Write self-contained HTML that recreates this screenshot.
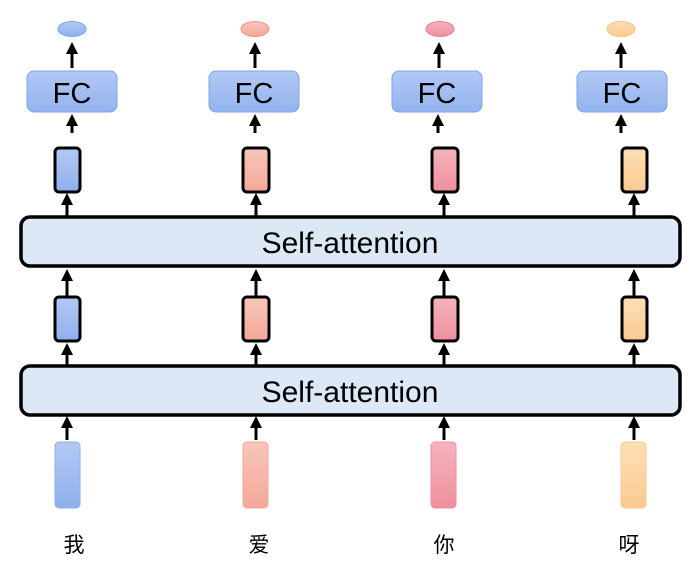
<!DOCTYPE html>
<html><head><meta charset="utf-8"><style>body{margin:0;background:#fff}svg{display:block}</style></head><body>
<svg width="694" height="573" viewBox="0 0 694 573" xmlns="http://www.w3.org/2000/svg">
<defs>
<linearGradient id="gb" x1="0" y1="0" x2="0" y2="1"><stop offset="0" stop-color="#b3c9f3"/><stop offset="1" stop-color="#8fb0ee"/></linearGradient>
<linearGradient id="gs" x1="0" y1="0" x2="0" y2="1"><stop offset="0" stop-color="#f8c6bb"/><stop offset="1" stop-color="#f3a898"/></linearGradient>
<linearGradient id="gp" x1="0" y1="0" x2="0" y2="1"><stop offset="0" stop-color="#f4b4bd"/><stop offset="1" stop-color="#ef8f9d"/></linearGradient>
<linearGradient id="go" x1="0" y1="0" x2="0" y2="1"><stop offset="0" stop-color="#fde0b6"/><stop offset="1" stop-color="#fbc990"/></linearGradient>
<linearGradient id="gfc" x1="0" y1="0" x2="0" y2="1"><stop offset="0" stop-color="#b2c9f4"/><stop offset="1" stop-color="#93b3ee"/></linearGradient>
<marker id="ah" markerWidth="4" markerHeight="4" refX="2" refY="2" orient="auto" markerUnits="strokeWidth"><path d="M0,0 L4,2 L0,4 z" fill="#000"/></marker>
</defs>
<g font-family="Liberation Sans, sans-serif">
<ellipse cx="72" cy="29" rx="14" ry="7.5" fill="url(#gb)" stroke="#7fa3ea"/>
<ellipse cx="255" cy="29" rx="14" ry="7.5" fill="url(#gs)" stroke="#ef9585"/>
<ellipse cx="440" cy="29" rx="14" ry="7.5" fill="url(#gp)" stroke="#ea7d8e"/>
<ellipse cx="621" cy="29" rx="14" ry="7.5" fill="url(#go)" stroke="#f8c27a"/>
<g fill="url(#gfc)" stroke="#7fa3ea" stroke-width="1">
<rect x="27" y="71" width="90" height="41" rx="7"/>
<rect x="209" y="71" width="90" height="41" rx="7"/>
<rect x="392" y="71" width="90" height="41" rx="7"/>
<rect x="577" y="71" width="90" height="41" rx="7"/>
</g>
<g font-size="29" text-anchor="middle" fill="#000">
<text x="72" y="103">FC</text><text x="254" y="103">FC</text><text x="437" y="103">FC</text><text x="622" y="103">FC</text>
</g>
<g stroke="#000" stroke-width="3" marker-end="url(#ah)">
<line x1="72" y1="68" x2="72" y2="48"/><line x1="255" y1="68" x2="255" y2="48"/><line x1="439" y1="68" x2="439" y2="48"/><line x1="621" y1="68" x2="621" y2="48"/>
<line x1="72" y1="133" x2="72" y2="120"/><line x1="255" y1="133" x2="255" y2="120"/><line x1="438" y1="133" x2="438" y2="120"/><line x1="621" y1="133" x2="621" y2="120"/>
<line x1="67" y1="216" x2="67" y2="199"/><line x1="256" y1="216" x2="256" y2="199"/><line x1="444" y1="216" x2="444" y2="199"/><line x1="634" y1="216" x2="634" y2="199"/>
<line x1="67" y1="296" x2="67" y2="275"/><line x1="256" y1="296" x2="256" y2="275"/><line x1="444" y1="296" x2="444" y2="275"/><line x1="634" y1="296" x2="634" y2="275"/>
<line x1="67" y1="366" x2="67" y2="349"/><line x1="256" y1="366" x2="256" y2="349"/><line x1="444" y1="366" x2="444" y2="349"/><line x1="634" y1="366" x2="634" y2="349"/>
<line x1="67" y1="440" x2="67" y2="422"/><line x1="256" y1="440" x2="256" y2="422"/><line x1="444" y1="440" x2="444" y2="422"/><line x1="634" y1="440" x2="634" y2="422"/>
</g>
<g stroke="#000" stroke-width="3">
<rect x="55" y="148" width="25" height="44" rx="4" fill="url(#gb)"/>
<rect x="243" y="148" width="26" height="44" rx="4" fill="url(#gs)"/>
<rect x="432" y="148" width="26" height="44" rx="4" fill="url(#gp)"/>
<rect x="622" y="148" width="25" height="44" rx="4" fill="url(#go)"/>
<rect x="55" y="297" width="25" height="44" rx="4" fill="url(#gb)"/>
<rect x="243" y="297" width="26" height="44" rx="4" fill="url(#gs)"/>
<rect x="432" y="297" width="26" height="44" rx="4" fill="url(#gp)"/>
<rect x="622" y="297" width="25" height="44" rx="4" fill="url(#go)"/>
</g>
<rect x="21" y="217" width="659" height="49" rx="9" fill="#dde8f6" stroke="#000" stroke-width="3.5"/>
<rect x="21" y="366" width="659" height="49" rx="9" fill="#dde8f6" stroke="#000" stroke-width="3.5"/>
<g font-size="30" text-anchor="middle" fill="#000">
<text x="350" y="253">Self-attention</text><text x="350" y="402">Self-attention</text>
</g>
<rect x="55" y="442" width="25" height="66" rx="4" fill="url(#gb)" stroke="#8fb0ee"/>
<rect x="243" y="442" width="25" height="66" rx="4" fill="url(#gs)" stroke="#f3a898"/>
<rect x="431" y="442" width="25" height="66" rx="4" fill="url(#gp)" stroke="#ef8f9d"/>
<rect x="621" y="442" width="25" height="66" rx="4" fill="url(#go)" stroke="#fbc990"/>
<g font-family="Liberation Sans, 'Noto Sans CJK SC', sans-serif" font-size="21" text-anchor="middle" fill="#000">
<text x="74" y="552">我</text><text x="259" y="552">爱</text><text x="444" y="552">你</text><text x="629" y="552">呀</text>
</g>
</g>
</svg>
</body></html>
